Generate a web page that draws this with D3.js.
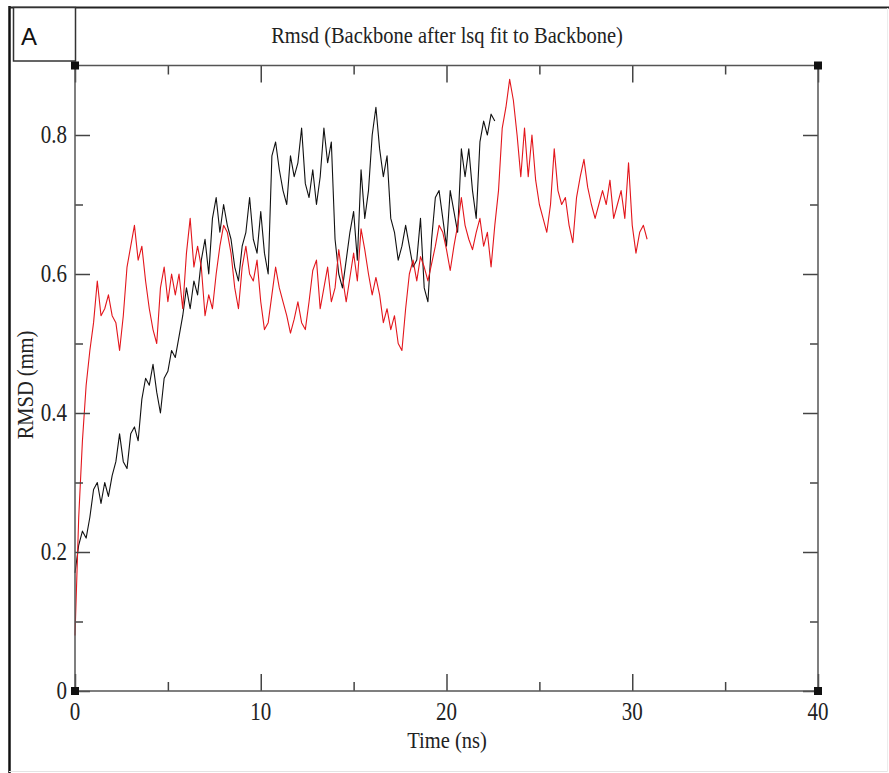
<!DOCTYPE html>
<html>
<head>
<meta charset="utf-8">
<script src="https://cdn.jsdelivr.net/npm/d3@7"></script>
<style>
  body { margin: 0; background: #fff; }
  svg text { font-family: "Liberation Serif", "Times New Roman", serif; fill: #222; }
</style>
</head>
<body>
<div id="chart"></div>
<script>
// sampling step of both traces (ns)
const dt = 0.2;

// black trace, RMSD (nm) every 0.2 ns from 0 to 22.6 ns
const blackRmsd = [
  0.17, 0.21, 0.23, 0.22, 0.25,
  0.29, 0.30, 0.27, 0.30, 0.28,
  0.31, 0.33, 0.37, 0.33, 0.32,
  0.37, 0.38, 0.36, 0.42, 0.45,
  0.44, 0.47, 0.43, 0.40, 0.45,
  0.46, 0.49, 0.48, 0.51, 0.54,
  0.58, 0.55, 0.59, 0.57, 0.62,
  0.65, 0.60, 0.68, 0.71, 0.66,
  0.70, 0.67, 0.65, 0.61, 0.59,
  0.64, 0.66, 0.71, 0.65, 0.63,
  0.69, 0.63, 0.60, 0.77, 0.79,
  0.75, 0.72, 0.70, 0.77, 0.74,
  0.76, 0.81, 0.73, 0.71, 0.75,
  0.70, 0.74, 0.81, 0.76, 0.79,
  0.65, 0.60, 0.58, 0.62, 0.66,
  0.69, 0.62, 0.75, 0.68, 0.72,
  0.80, 0.84, 0.78, 0.74, 0.77,
  0.68, 0.66, 0.62, 0.64, 0.67,
  0.64, 0.61, 0.62, 0.68, 0.58,
  0.56, 0.65, 0.71, 0.72, 0.68,
  0.64, 0.72, 0.69, 0.66, 0.78,
  0.74, 0.78, 0.72, 0.68, 0.79,
  0.82, 0.80, 0.83, 0.82
];

// red trace, RMSD (nm) every 0.2 ns from 0 to 30.8 ns
const redRmsd = [
  0.08, 0.25, 0.36, 0.44, 0.49,
  0.53, 0.59, 0.54, 0.55, 0.57,
  0.54, 0.53, 0.49, 0.54, 0.61,
  0.64, 0.67, 0.62, 0.64, 0.59,
  0.55, 0.52, 0.50, 0.58, 0.61,
  0.56, 0.60, 0.57, 0.60, 0.55,
  0.63, 0.68, 0.61, 0.64, 0.61,
  0.54, 0.57, 0.55, 0.60, 0.64,
  0.67, 0.66, 0.63, 0.58, 0.55,
  0.61, 0.64, 0.60, 0.59, 0.62,
  0.56, 0.52, 0.53, 0.57, 0.61,
  0.58, 0.56, 0.54, 0.515, 0.535,
  0.56, 0.53, 0.52, 0.56, 0.605,
  0.62, 0.55, 0.58, 0.61, 0.56,
  0.58, 0.635, 0.595, 0.56, 0.595,
  0.63, 0.59, 0.665, 0.635, 0.60,
  0.57, 0.595, 0.57, 0.53, 0.55,
  0.52, 0.54, 0.50, 0.49, 0.55,
  0.60, 0.62, 0.59, 0.625, 0.61,
  0.59, 0.615, 0.64, 0.67, 0.66,
  0.635, 0.605, 0.64, 0.67, 0.71,
  0.67, 0.65, 0.635, 0.66, 0.68,
  0.64, 0.66, 0.61, 0.67, 0.72,
  0.81, 0.84, 0.88, 0.85, 0.80,
  0.74, 0.81, 0.74, 0.80, 0.735,
  0.70, 0.68, 0.66, 0.70, 0.78,
  0.72, 0.70, 0.71, 0.67, 0.645,
  0.71, 0.74, 0.765, 0.725, 0.70,
  0.68, 0.70, 0.72, 0.70, 0.735,
  0.68, 0.70, 0.72, 0.68, 0.76,
  0.67, 0.63, 0.66, 0.67, 0.65
];

const xMajor = [0, 10, 20, 30, 40];
const xMinor = [5, 15, 25, 35];
const yMajor = [0, 0.2, 0.4, 0.6, 0.8];
const yMinor = [0.1, 0.3, 0.5, 0.7];
const xTickLabels = ["0", "10", "20", "30", "40"];
const yTickLabels = ["0", "0.2", "0.4", "0.6", "0.8"];

const width = 889, height = 773;
const stretch = 1.15; // the source image is a bit taller than wide

const svg = d3.select("#chart").append("svg")
    .attr("width", width)
    .attr("height", height);

const x = d3.scaleLinear().domain([0, 40]).range([75, 818]);
const y = d3.scaleLinear().domain([0, 0.9]).range([691, 65.5]);

// outer page frame
svg.append("line").attr("x1", 9.5).attr("x2", 9.5).attr("y1", 6).attr("y2", 773)
    .attr("stroke", "#111").attr("stroke-width", 2.5);
svg.append("line").attr("x1", 9).attr("x2", 889).attr("y1", 7.5).attr("y2", 7.5)
    .attr("stroke", "#222").attr("stroke-width", 2);
svg.append("line").attr("x1", 9).attr("x2", 888).attr("y1", 771.5).attr("y2", 771.5)
    .attr("stroke", "#e4e4e4").attr("stroke-width", 1);
svg.append("line").attr("x1", 887.5).attr("x2", 887.5).attr("y1", 8).attr("y2", 772)
    .attr("stroke", "#ececec").attr("stroke-width", 1);

// panel letter box
svg.append("rect").attr("x", 13.5).attr("y", 7.5).attr("width", 62).attr("height", 53.5)
    .attr("fill", "#fff").attr("stroke", "#333").attr("stroke-width", 1.5);
svg.append("text").attr("x", 21).attr("y", 45)
    .style("font-family", "'Liberation Sans', Arial, sans-serif")
    .style("font-size", "24px").style("fill", "#111")
    .text("A");

// data lines
const line = d3.line()
    .x((d, i) => x(i * dt))
    .y(d => y(d));

svg.append("path").datum(blackRmsd)
    .attr("fill", "none").attr("stroke", "#111").attr("stroke-width", 1.1)
    .attr("stroke-linejoin", "round")
    .attr("d", line);

svg.append("path").datum(redRmsd)
    .attr("fill", "none").attr("stroke", "#e3161c").attr("stroke-width", 1.1)
    .attr("stroke-linejoin", "round")
    .attr("d", line);

// ticks on all four sides, pointing inward
function tickGroup(axis, tx, ty) {
    const g = svg.append("g").attr("transform", `translate(${tx},${ty})`).call(axis);
    g.select(".domain").remove();
    g.selectAll(".tick line").attr("stroke", "#444").attr("stroke-width", 1.5);
    g.selectAll(".tick text").remove();
    return g;
}
tickGroup(d3.axisBottom(x).tickValues(xMajor).tickSize(-17), 0, 691);
tickGroup(d3.axisBottom(x).tickValues(xMinor).tickSize(-9), 0, 691);
tickGroup(d3.axisTop(x).tickValues(xMajor).tickSize(-17), 0, 65.5);
tickGroup(d3.axisTop(x).tickValues(xMinor).tickSize(-9), 0, 65.5);
tickGroup(d3.axisLeft(y).tickValues(yMajor).tickSize(-15), 75, 0);
tickGroup(d3.axisLeft(y).tickValues(yMinor).tickSize(-8), 75, 0);
tickGroup(d3.axisRight(y).tickValues(yMajor).tickSize(-15), 818, 0);
tickGroup(d3.axisRight(y).tickValues(yMinor).tickSize(-8), 818, 0);

// plot frame
svg.append("rect").attr("x", x(0)).attr("y", y(0.9))
    .attr("width", x(40) - x(0)).attr("height", y(0) - y(0.9))
    .attr("fill", "none").attr("stroke", "#555").attr("stroke-width", 1.5);

// corner markers
const corners = [[0, 0], [40, 0], [0, 0.9], [40, 0.9]];
svg.selectAll("rect.corner").data(corners).enter().append("rect")
    .attr("class", "corner")
    .attr("x", d => x(d[0]) - 4).attr("y", d => y(d[1]) - 4)
    .attr("width", 8).attr("height", 8)
    .attr("fill", "#111");

// tick labels
svg.selectAll("text.xl").data(xMajor).enter().append("text")
    .attr("class", "xl")
    .attr("text-anchor", "middle")
    .attr("transform", d => `translate(${x(d)},720) scale(1,${stretch})`)
    .style("font-size", "21px")
    .text((d, i) => xTickLabels[i]);

svg.selectAll("text.yl").data(yMajor).enter().append("text")
    .attr("class", "yl")
    .attr("text-anchor", "end")
    .attr("transform", d => `translate(67,${y(d) + 8}) scale(1,${stretch})`)
    .style("font-size", "21px")
    .text((d, i) => yTickLabels[i]);

// titles
svg.append("text")
    .attr("text-anchor", "middle")
    .attr("transform", `translate(447,43) scale(1,${stretch})`)
    .style("font-size", "20.5px")
    .text("Rmsd (Backbone after lsq fit to Backbone)");

svg.append("text")
    .attr("text-anchor", "middle")
    .attr("transform", `translate(447,748) scale(1,${stretch})`)
    .style("font-size", "20.5px")
    .text("Time (ns)");

svg.append("text")
    .attr("text-anchor", "middle")
    .attr("transform", `translate(33,385) rotate(-90) scale(1,${stretch})`)
    .style("font-size", "20.5px")
    .text("RMSD (mm)");
</script>
</body>
</html>
